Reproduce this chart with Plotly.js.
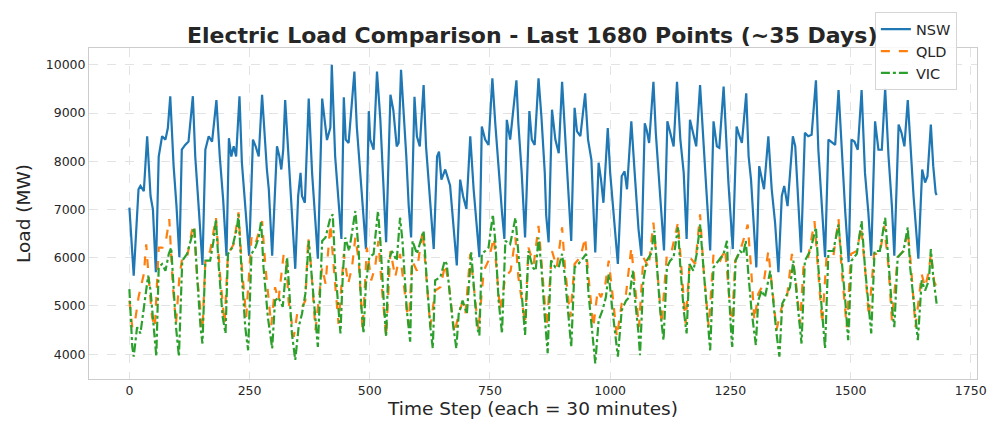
<!DOCTYPE html>
<html>
<head>
<meta charset="utf-8">
<script src="https://cdn.plot.ly/plotly-3.0.1.min.js"></script>
<style>html,body{margin:0;padding:0;background:#fff;}#chart{width:993px;height:422px;}</style>
</head>
<body>
<div id="chart"></div>
<script>
// NSW load (MW) at time steps (30 min each)
const nswX = [0,9,19,23,30,37,44,49,55,61,68,75,80,85,92,98,104,109,116,123,132,137,144,152,158,165,172,181,188,195,202,207,212,217,222,229,234,241,249,257,263,269,276,286,290,297,302,307,312,316,320,324,331,338,345,351,356,359,365,373,380,387,392,401,408,411,418,421,428,435,441,446,450,456,468,473,480,487,492,498,501,508,515,522,529,534,543,549,556,560,565,570,576,581,586,593,598,604,612,617,624,633,640,644,649,657,667,674,681,688,694,701,709,716,723,728,733,740,747,755,761,768,775,780,785,792,805,809,816,823,832,837,843,851,857,864,867,872,879,886,893,900,905,912,919,926,931,938,948,954,961,965,969,976,981,986,995,1000,1009,1016,1024,1030,1035,1044,1051,1059,1065,1072,1076,1081,1090,1095,1104,1112,1119,1125,1132,1139,1146,1153,1159,1166,1173,1179,1187,1193,1200,1208,1215,1222,1227,1236,1241,1246,1255,1263,1269,1274,1283,1288,1293,1304,1310,1315,1320,1329,1336,1343,1350,1357,1362,1369,1380,1385,1391,1397,1405,1412,1419,1428,1433,1440,1447,1454,1462,1468,1475,1482,1489,1496,1502,1508,1515,1523,1530,1537,1543,1551,1558,1565,1572,1579,1586,1591,1600,1606,1612,1619,1624,1631,1641,1649,1655,1660,1667,1672,1677,1679];
const nswY = [7040,5630,7420,7490,7380,8520,7280,7000,5700,8100,8520,8450,8690,9350,7900,7070,6010,8240,8340,8410,9350,8100,7070,5850,8240,8520,8410,9270,8100,7210,6040,8480,8100,8310,8100,9350,7970,7070,6040,8450,8300,8100,9380,7830,7420,6040,7280,8310,8100,7830,8240,9270,8100,6940,5770,7280,7760,7280,7140,9300,7760,6730,5980,9300,8700,8440,8700,10000,8100,7070,6390,9330,8450,8380,9860,8720,7760,6730,6180,9040,8450,8240,9860,8860,7350,6320,9380,9060,8310,8380,9900,9100,8100,7070,6420,9340,8520,8310,9580,8310,7420,6180,8100,8200,7620,7830,7500,6730,5840,7620,7280,7010,8520,7420,6590,6010,8720,8450,8340,9720,8790,7760,6940,6390,8860,8450,9680,8790,7760,6420,9040,8450,8340,9720,8930,7760,6870,6320,9070,8450,8170,9650,8650,7550,6350,9110,8620,8520,9410,8450,8030,6870,6110,7970,7620,7140,8690,7760,6730,5870,7690,7790,7420,8830,7760,6590,6040,8790,8650,8380,9650,8580,7280,6150,8830,8580,8310,9650,8450,7760,6390,8860,8580,8310,9580,8450,7420,6150,8830,8310,8280,9550,8450,7550,6180,8720,8520,8380,9410,8100,7620,5800,7900,7690,7420,8520,7420,6730,5700,7280,7490,7070,8520,8310,7070,6110,8590,8520,8550,9680,8240,7210,6010,8450,8380,8340,9480,8100,6940,5910,8450,8410,8240,9480,7760,6940,6040,8830,8240,8240,9510,8100,7070,6040,8760,8590,8310,9270,8450,7280,5980,7830,7560,7690,8760,7900,7350,7300];

// QLD load (MW)
const qldX = [0,6,12,19,30,35,40,47,53,61,69,76,83,90,97,104,110,120,130,134,141,148,152,158,168,180,189,198,205,217,227,234,243,254,262,276,283,295,303,310,321,326,331,342,349,359,366,372,378,387,401,408,418,425,435,446,455,463,470,477,485,494,503,511,518,525,534,543,553,563,570,581,588,598,610,616,626,636,647,657,665,676,685,692,699,709,716,726,737,747,758,765,771,782,793,803,809,823,830,841,851,857,868,879,889,900,906,917,926,938,948,955,965,974,981,990,997,1004,1014,1024,1033,1044,1051,1060,1069,1080,1090,1097,1107,1118,1128,1141,1148,1157,1166,1177,1187,1194,1205,1215,1229,1239,1246,1253,1260,1270,1281,1286,1293,1300,1308,1319,1329,1336,1346,1357,1367,1378,1386,1395,1402,1412,1425,1432,1441,1450,1464,1475,1481,1492,1501,1513,1522,1530,1538,1549,1561,1570,1579,1586,1598,1610,1619,1626,1635,1648,1655,1663,1667,1674,1679];
const qldY = [5110,4560,4700,5180,5660,6280,5600,4770,4560,6210,6210,6350,6800,5460,4630,5600,6010,6010,6560,6690,5600,4910,4500,5940,6140,6830,5600,4630,6080,6280,6940,5800,4770,6420,6280,6760,5800,4600,5390,5110,6080,6010,5110,4360,4840,4980,5110,6420,5800,4500,5800,5460,6690,5800,4630,6080,5460,5800,6420,5940,4500,6210,5530,5800,6350,5390,4360,6140,5600,6080,5460,4600,5940,5730,6560,5800,4560,5320,5390,5870,5390,4430,4840,5050,4840,6080,5390,4500,5730,5940,6420,5660,4910,5600,5730,6420,5600,4650,6210,5870,6660,5940,4560,6140,5800,6630,5800,4770,5870,6010,6420,5600,4560,5320,5180,5460,5940,5320,4360,5050,5250,6210,5460,4560,6010,5800,6730,5800,4630,6080,6140,6730,5800,4630,6010,5870,6900,5800,4560,6080,5940,6180,5390,4500,5940,6140,6490,6690,5800,4700,5250,5460,6140,5460,4500,4980,5110,6080,5530,4630,5800,6010,6760,5800,4630,6010,6010,6800,5800,4560,6080,6140,6630,5800,4770,6080,6080,6660,5800,4700,6010,6140,6560,5800,4560,5660,5390,5730,6100,5500,5400];

// VIC load (MW)
const vicX = [0,6,9,16,23,30,39,44,51,56,61,68,75,82,87,92,97,103,110,120,130,135,141,148,152,158,168,175,180,186,194,200,205,214,224,227,234,241,247,254,262,269,274,279,288,297,303,310,319,328,333,338,345,352,359,366,373,378,386,392,401,408,418,423,428,434,439,444,449,457,466,470,477,482,487,492,499,508,517,522,529,534,539,546,556,563,568,577,584,589,598,608,612,619,626,631,636,647,656,660,667,673,680,685,693,702,711,716,723,728,733,740,747,756,761,768,775,782,792,803,808,816,823,830,839,845,851,857,864,870,877,886,893,900,906,913,919,926,934,945,950,955,962,969,976,984,991,997,1004,1010,1016,1024,1033,1040,1047,1052,1059,1062,1069,1076,1085,1092,1097,1104,1111,1118,1125,1132,1141,1146,1153,1159,1165,1173,1180,1187,1194,1201,1208,1215,1225,1236,1243,1246,1251,1254,1261,1270,1277,1282,1288,1294,1303,1308,1315,1322,1333,1339,1346,1352,1358,1365,1374,1381,1386,1393,1398,1405,1416,1423,1428,1433,1440,1447,1454,1464,1475,1480,1489,1495,1502,1513,1523,1530,1537,1543,1550,1561,1572,1579,1586,1591,1598,1610,1619,1624,1634,1640,1648,1655,1663,1667,1672,1679];
const vicY = [5350,4150,3950,4560,4430,4910,5630,5320,4560,3950,5800,5870,5730,6080,6210,5460,4560,3950,5940,6080,6420,6630,5600,4560,4220,5940,5940,6350,6800,5800,4770,4430,6080,6210,6630,6900,5600,4560,4080,6080,6210,6420,6760,5800,4770,4120,5110,5180,4980,6010,5250,4430,3880,4560,4840,5250,6350,5800,4770,4150,6350,6420,6830,6900,5800,4980,4430,5660,6420,6140,6760,6970,6140,5050,4430,5460,6010,6080,6970,6350,5110,4360,5940,6140,5940,6830,6350,4910,4260,6350,6080,6420,6560,5460,4560,4120,5530,5600,5940,5870,5110,4630,4120,4840,5110,4840,6110,5460,4560,4390,6080,6140,6210,6900,6350,5110,4430,6350,6280,6830,6280,5250,4400,6140,5800,5730,6420,5800,4770,4020,5940,5800,5800,6080,5600,4770,4150,5800,5870,6010,6080,5250,4560,3810,4700,4910,5180,5660,4980,4430,3950,4910,5110,5180,5730,5110,4430,3980,5530,5940,6080,6560,5800,4910,4290,5800,5940,6010,6630,5800,4910,4430,5870,5730,6080,6690,5800,4910,4080,5800,5940,6080,6350,5460,4560,4150,5940,6140,6080,6350,5600,4910,4190,5110,5320,5180,5730,5110,4430,3950,5050,5180,5390,5940,5460,4770,4220,5940,6140,6420,6630,5800,4980,4120,6140,6140,6690,6140,5110,4290,5940,6080,6760,5800,4980,4430,6140,6140,6830,5800,4980,4560,6010,6140,6630,5800,4910,4290,5530,5320,5530,6180,5600,5050];

const xTicks = [0,250,500,750,1000,1250,1500,1750];
const yTicks = [4000,5000,6000,7000,8000,9000,10000];

const traces = [
  {x: nswX, y: nswY, name: 'NSW', type: 'scatter', mode: 'lines',
   line: {color: '#1f77b4', width: 2.2}},
  {x: qldX, y: qldY, name: 'QLD', type: 'scatter', mode: 'lines',
   line: {color: '#ff7f0e', width: 2.2, dash: 'dash'}},
  {x: vicX, y: vicY, name: 'VIC', type: 'scatter', mode: 'lines',
   line: {color: '#2ca02c', width: 2.2, dash: 'dashdot'}}
];

const axisCommon = {
  showline: true, mirror: true, linecolor: '#cccccc', linewidth: 1,
  showgrid: true, gridcolor: '#e3e3e3', griddash: 'dash', gridwidth: 1,
  zeroline: false, ticks: '', tickfont: {family: 'DejaVu Sans', size: 12.5, color: '#262626'},
  automargin: false
};

const layout = {
  width: 993, height: 422, autosize: false,
  paper_bgcolor: '#ffffff', plot_bgcolor: '#ffffff',
  margin: {l: 89, r: 16, t: 46, b: 43},
  font: {family: 'DejaVu Sans', color: '#262626'},
  title: {text: '<b>Electric Load Comparison - Last 1680 Points (~35 Days)</b>',
          font: {family: 'DejaVu Sans', size: 22, color: '#262626'},
          x: 0.536, xanchor: 'center', xref: 'container', y: 0.917, yanchor: 'middle', yref: 'container'},
  xaxis: Object.assign({}, axisCommon, {
    range: [-84, 1763], tickvals: xTicks, ticktext: xTicks.map(String),
    title: {text: 'Time Step (each = 30 minutes)', font: {family: 'DejaVu Sans', size: 18.5, color: '#262626'}, standoff: 2}
  }),
  yaxis: Object.assign({}, axisCommon, {
    range: [3485, 10350], tickvals: yTicks, ticktext: yTicks.map(String),
    title: {text: 'Load (MW)', font: {family: 'DejaVu Sans', size: 18.5, color: '#262626'}, standoff: 10}
  }),
  showlegend: true,
  legend: {x: 0.885, y: 1.108, xanchor: 'left', yanchor: 'top', xref: 'paper', yref: 'paper',
           bgcolor: 'rgba(255,255,255,0.85)', bordercolor: '#d5d5d5', borderwidth: 1,
           font: {family: 'DejaVu Sans', size: 14.5, color: '#262626'}, tracegroupgap: 0, itemwidth: 30}
};

Plotly.newPlot('chart', traces, layout, {displayModeBar: false, staticPlot: true});
</script>
</body>
</html>
